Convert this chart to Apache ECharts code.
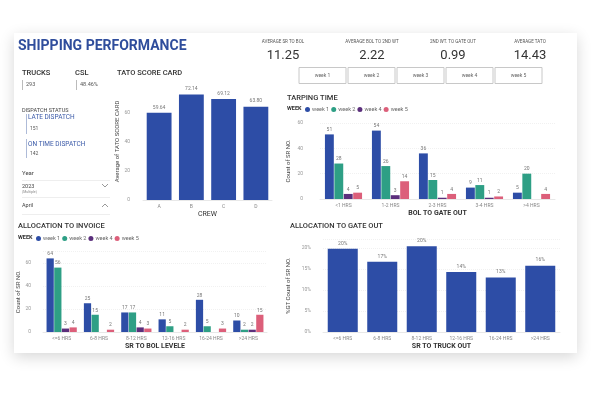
<!DOCTYPE html>
<html>
<head>
<meta charset="utf-8">
<script src="https://cdn.jsdelivr.net/npm/echarts@6/dist/echarts.min.js"></script>
<style>
  html, body { margin: 0; padding: 0; background: #fff; }
  #main { width: 591px; height: 408px; }
</style>
</head>
<body>
<div id="main"></div>
<script>
// --- data ---
const crews = ['A', 'B', 'C', 'D'];
const tatoScore = [59.64, 72.14, 69.12, 63.80];

const weekNames = ['week 1', 'week 2', 'week 4', 'week 5'];
const weekColors = ['#2d4da6', '#2e9f85', '#5b2f7c', '#dc5f7a'];

const tarpCats = ['<1 HRS', '1-2 HRS', '2-3 HRS', '3-4 HRS', '>4 HRS'];
const tarpWeek1 = [51, 54, 36, 9, 5];
const tarpWeek2 = [28, 26, 15, 11, 20];
const tarpWeek4 = [4, 3, 1, 1, null];
const tarpWeek5 = [5, 14, 4, 2, 4];

const invCats = ['<=6 HRS', '6-8 HRS', '8-12 HRS', '12-16 HRS', '16-24 HRS', '>24 HRS'];
const invWeek1 = [64, 25, 17, 11, 28, 10];
const invWeek2 = [56, 15, 17, 5, 5, 2];
const invWeek4 = [3, null, 4, null, null, 2];
const invWeek5 = [4, 2, 3, 2, 3, 15];

const gateCats = ['<=6 HRS', '6-8 HRS', '8-12 HRS', '12-16 HRS', '16-24 HRS', '>24 HRS'];
const gatePct = [19.8, 16.7, 20.4, 14.3, 13.0, 15.8];

const kpiLabels = ['AVERAGE SR TO BOL', 'AVERAGE BOL TO 2ND WT', '2ND WT. TO GATE OUT', 'AVERAGE TATO'];
const kpiValues = ['11.25', '2.22', '0.99', '14.43'];
const weekButtons = ['week 1', 'week 2', 'week 3', 'week 4', 'week 5'];

const FONT = 'Roboto';
const myChart = echarts.init(document.getElementById('main'));

// --- helpers ---
function txt(text, x, y, size, color, weight, align) {
  return {
    type: 'text', z: 10,
    style: {
      text: text, x: x, y: y, fill: color || '#333',
      font: (weight || 'normal') + ' ' + size + 'px ' + FONT,
      textAlign: align || 'left', textVerticalAlign: 'middle'
    }
  };
}
function line(x1, y1, x2, y2, color, w) {
  return { type: 'line', z: 5, shape: { x1: x1, y1: y1, x2: x2, y2: y2 },
           style: { stroke: color, lineWidth: w || 1 } };
}

function yAxisCfg(idx, name, gap, margin, extra) {
  return Object.assign({
    type: 'value', gridIndex: idx, name: name, nameLocation: 'middle', nameGap: gap,
    nameTextStyle: { fontSize: 6, color: '#444', fontFamily: FONT },
    axisLabel: { fontSize: 5, color: '#999', margin: margin, fontFamily: FONT, showMaxLabel: false },
    splitLine: { lineStyle: { color: '#f1f1f1', type: 'dotted' } },
    axisLine: { show: false }, axisTick: { show: false }
  }, extra || {});
}
function xAxisCfg(idx, cats, name, bold) {
  return {
    type: 'category', gridIndex: idx, data: cats, name: name,
    nameLocation: 'middle', nameGap: 11,
    nameTextStyle: { fontSize: 7, color: '#333', fontWeight: bold ? 'bold' : 'normal', fontFamily: FONT },
    axisLabel: { fontSize: 5, color: '#888', margin: 4, fontFamily: FONT, interval: 0 },
    axisLine: { lineStyle: { color: '#e8e8e8' } }, axisTick: { show: false }
  };
}
function weekSeries(axisIdx, datasets, catGap) {
  return datasets.map((d, i) => ({
    name: weekNames[i], type: 'bar', xAxisIndex: axisIdx, yAxisIndex: axisIdx,
    data: d, itemStyle: { color: weekColors[i] },
    barGap: '6%', barCategoryGap: catGap,
    label: { show: true, position: 'top', distance: 2, fontSize: 5, color: '#777', fontFamily: FONT }
  }));
}

// --- decorations and text ---
const graphics = [
  { type: 'rect', z: 0, shape: { x: 14, y: 33, width: 563, height: 320 },
    style: { fill: '#fff', shadowBlur: 14, shadowColor: 'rgba(0,0,0,0.16)', shadowOffsetY: 4 } },
  txt('SHIPPING PERFORMANCE', 18, 46, 14, '#2f4d9c', 'bold')
];
const kpiX = [283, 372, 453, 530];
kpiLabels.forEach((l, i) => {
  graphics.push(txt(l, kpiX[i], 42, 4.5, '#555', 'normal', 'center'));
  graphics.push(txt(kpiValues[i], kpiX[i], 56, 13, '#333', 'normal', 'center'));
});
weekButtons.forEach((w, i) => {
  const x = 299 + i * 49;
  graphics.push({ type: 'rect', z: 5, shape: { x: x, y: 67.5, width: 47, height: 16 },
    style: { fill: '#fff', stroke: '#c8c8c8', lineWidth: 1 } });
  graphics.push(txt(w, x + 23.5, 75.5, 5, '#666', 'normal', 'center'));
});
graphics.push(
  txt('TRUCKS', 22, 73, 7.5, '#333', '500'),
  line(22.5, 80, 22.5, 90, '#bbb'), txt('293', 26, 85, 5.5, '#555'),
  txt('CSL', 75, 73, 7.5, '#333', '500'),
  line(76.5, 80, 76.5, 90, '#bbb'), txt('48.46%', 80, 85, 5.5, '#555'),
  txt('TATO SCORE CARD', 117, 73, 7.5, '#333', '500'),
  txt('DISPATCH STATUS', 22, 111, 5.5, '#444'),
  line(26.5, 114, 26.5, 134, '#aebbd8'),
  txt('LATE DISPATCH', 28, 117.5, 6.5, '#3b5aa8'), txt('151', 30, 129, 5, '#555'),
  line(26.5, 139, 26.5, 158, '#aebbd8'),
  txt('ON TIME DISPATCH', 28, 144, 6.5, '#3b5aa8'), txt('142', 30, 154, 5, '#555'),
  txt('Year', 22, 173, 6, '#444'),
  line(22, 180.5, 110, 180.5, '#eee'),
  txt('2023', 22, 186.5, 5.5, '#444'), txt('(Multiple)', 22, 192, 3.5, '#888'),
  { type: 'polyline', z: 5, shape: { points: [[102, 184], [105, 187], [108, 184]] }, style: { stroke: '#999', fill: null } },
  line(22, 197.5, 110, 197.5, '#eee'),
  txt('April', 22, 206, 5.5, '#444'),
  { type: 'polyline', z: 5, shape: { points: [[102, 207], [105, 204], [108, 207]] }, style: { stroke: '#999', fill: null } },
  line(22, 214.5, 110, 214.5, '#eee'),
  txt('TARPING TIME', 287, 98, 7.5, '#333', '500'),
  txt('WEEK', 287, 109, 5.5, '#333', 'bold'),
  txt('ALLOCATION TO INVOICE', 18, 226, 7.5, '#333', '500'),
  txt('WEEK', 18, 238, 5.5, '#333', 'bold'),
  txt('ALLOCATION TO GATE OUT', 290, 226, 7.5, '#333', '500')
);

const legendBase = {
  data: weekNames, icon: 'circle', itemWidth: 5, itemHeight: 5, itemGap: 2, padding: 0,
  textStyle: { fontSize: 5.5, color: '#666', fontFamily: FONT, padding: [0, 0, 0, -3] }
};

const option = {
  backgroundColor: '#fff',
  animation: false,
  textStyle: { fontFamily: FONT },
  graphic: graphics,
  legend: [
    Object.assign({ left: 305, top: 106.5 }, legendBase),
    Object.assign({ left: 36, top: 235.5 }, legendBase)
  ],
  grid: [
    { left: 143, top: 83, width: 129, height: 117 },
    { left: 320, top: 123, width: 235, height: 76 },
    { left: 43, top: 251.5, width: 224, height: 80.5 },
    { left: 323, top: 239.6, width: 237, height: 92.4 }
  ],
  xAxis: [
    xAxisCfg(0, crews, 'CREW', false),
    xAxisCfg(1, tarpCats, 'BOL TO GATE OUT', true),
    xAxisCfg(2, invCats, 'SR TO BOL LEVELE', true),
    xAxisCfg(3, gateCats, 'SR TO TRUCK OUT', true)
  ],
  yAxis: [
    yAxisCfg(0, 'Average of TATO SCORE CARD', 23, 13, { min: 0, max: 80, interval: 20,
      splitLine: { show: false } }),
    yAxisCfg(1, 'Count of SR NO.', 29, 17, { min: 0, max: 60, interval: 20,
      axisLabel: { fontSize: 5, color: '#999', margin: 17, fontFamily: FONT } }),
    yAxisCfg(2, 'Count of SR NO.', 22, 12, { min: 0, max: 70, interval: 20 }),
    yAxisCfg(3, '%GT Count of SR NO.', 32, 12, { min: 0, max: 22, interval: 5,
      axisLabel: { fontSize: 5, color: '#999', margin: 12, fontFamily: FONT, showMaxLabel: false,
        formatter: '{value}%' } })
  ],
  series: [
    {
      name: 'TATO', type: 'bar', xAxisIndex: 0, yAxisIndex: 0, data: tatoScore,
      barCategoryGap: '23%', itemStyle: { color: '#2d4da6' },
      label: { show: true, position: 'top', distance: 3, fontSize: 5, color: '#777',
        formatter: (p) => p.value.toFixed(2) }
    },
    ...weekSeries(1, [tarpWeek1, tarpWeek2, tarpWeek4, tarpWeek5], '21%'),
    ...weekSeries(2, [invWeek1, invWeek2, invWeek4, invWeek5], '19%'),
    {
      name: 'gate', type: 'bar', xAxisIndex: 3, yAxisIndex: 3, data: gatePct,
      barCategoryGap: '24%', itemStyle: { color: '#2d4da6' },
      label: { show: true, position: 'top', distance: 3, fontSize: 5, color: '#777',
        formatter: (p) => Math.round(p.value) + '%' }
    }
  ]
};

myChart.setOption(option);
</script>
</body>
</html>
